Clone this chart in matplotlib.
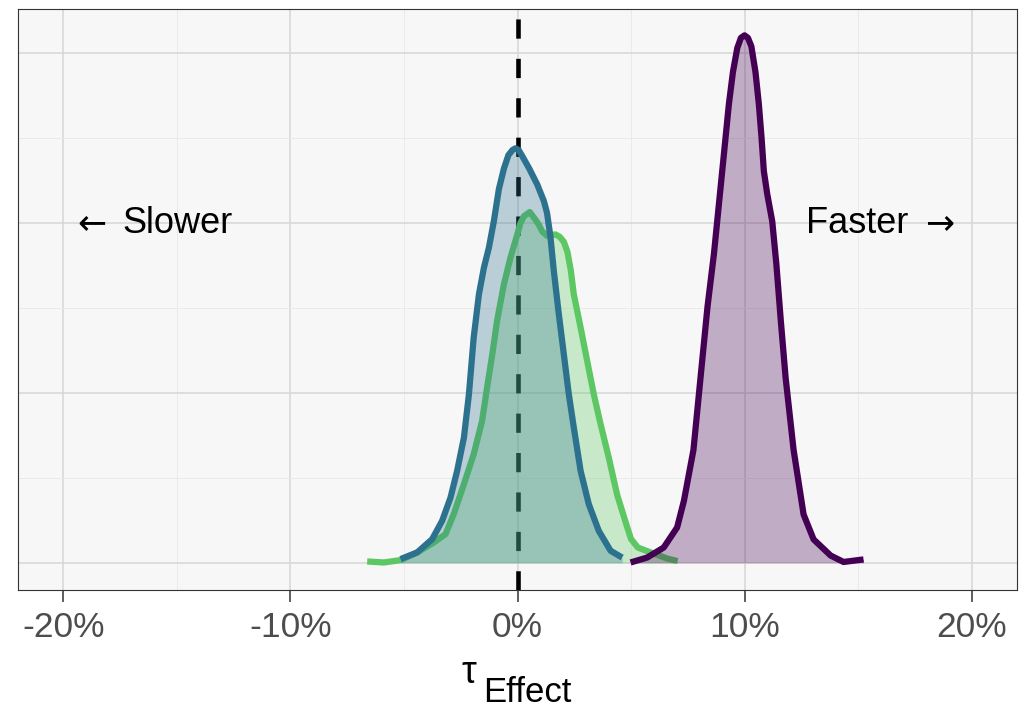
import numpy as np
import matplotlib; matplotlib.use('agg')
import matplotlib.pyplot as plt
from matplotlib.ticker import MultipleLocator, FuncFormatter

plt.rcParams['font.family'] = ['Liberation Sans', 'DejaVu Sans']

# density curves: x in percent, density in 1/fraction
green_x = [-6.62, -5.89, -5.15, -4.42, -3.69, -3.17, -2.81, -2.36, -1.93, -1.56,
           -1.34, -1.11, -0.90, -0.60, -0.31, -0.01, 0.13, 0.28, 0.54, 0.79,
           0.94, 1.09, 1.31, 1.50, 1.67, 1.85, 2.04, 2.20, 2.35, 2.48,
           2.78, 3.07, 3.36, 3.66, 4.02, 4.39, 4.76, 5.00, 5.30, 5.73,
           6.20, 6.60, 7.05]
green_y = [0.08, 0.02, 0.16, 0.61, 1.19, 1.69, 2.86, 4.63, 6.39, 8.35,
           10.31, 12.28, 14.24, 16.39, 17.96, 19.33, 20.0, 20.4, 20.65, 20.2,
           19.9, 19.5, 19.24, 19.3, 19.33, 19.2, 18.9, 18.3, 17.2, 15.8,
           13.84, 11.88, 9.92, 8.16, 6.19, 4.0, 2.4, 1.4, 0.9, 0.68,
           0.45, 0.25, 0.1]

blue_x = [-5.15, -4.42, -3.76, -3.32, -2.95, -2.66, -2.36, -2.14, -1.93, -1.70,
          -1.48, -1.26, -1.04, -0.82, -0.60, -0.40, -0.22, -0.09, 0.05, 0.21,
          0.50, 0.87, 1.16, 1.30, 1.45, 1.60, 1.82, 2.04, 2.26, 2.48,
          2.78, 3.14, 3.58, 4.10, 4.61]
blue_y = [0.22, 0.61, 1.39, 2.47, 3.84, 5.41, 7.37, 9.92, 13.25, 15.80,
          17.37, 18.55, 20.12, 22.0, 23.2, 24.0, 24.3, 24.4, 24.3, 23.94,
          23.25, 22.27, 21.3, 20.6, 19.2, 17.18, 14.63, 12.28, 9.92, 7.96,
          5.41, 3.45, 1.88, 0.71, 0.31]

purple_x = [4.98, 5.71, 6.44, 7.03, 7.33, 7.75, 8.06, 8.37, 8.65, 8.87,
            9.09, 9.31, 9.49, 9.68, 9.84, 10.0, 10.15, 10.30, 10.48, 10.63,
            10.75, 10.85, 11.0, 11.22, 11.40, 11.60, 11.81, 12.16, 12.60, 13.04,
            13.79, 14.36, 15.24]
purple_y = [0.02, 0.31, 0.9, 2.08, 3.65, 6.65, 10.88, 15.09, 18.16, 21.1,
            24.04, 27.0, 28.9, 30.3, 30.9, 31.05, 30.9, 30.4, 28.9, 27.0,
            25.0, 23.06, 21.7, 20.1, 17.6, 14.2, 10.88, 6.65, 2.85, 1.38,
            0.43, 0.05, 0.2]

series = [(green_x, green_y, '#5DC863'),
          (blue_x, blue_y, '#2C728E'),
          (purple_x, purple_y, '#440154')]

x_ticks = [-20, -10, 0, 10, 20]

fig = plt.figure(figsize=(10.25, 7.07), dpi=100)
ax = fig.add_axes([18/1025, 1 - 590/707, (1017 - 18)/1025, (590 - 9)/707])
ax.set_facecolor('#F7F7F7')

ax.set_xlim(-22, 22)
ax.set_ylim(-1.6, 32.6)
ax.set_xticks(x_ticks)
ax.xaxis.set_minor_locator(MultipleLocator(5))
ax.yaxis.set_major_locator(MultipleLocator(10))
ax.yaxis.set_minor_locator(MultipleLocator(5))
ax.xaxis.set_major_formatter(FuncFormatter(lambda v, p: '%d%%' % v))
ax.grid(which='major', color='#D6D6D6', lw=1.1, zorder=0)
ax.grid(which='minor', color='#EAEAEA', lw=0.7, zorder=0)
ax.set_axisbelow(True)

ax.tick_params(axis='x', which='major', length=8.6, width=1.1, color='#333333',
               labelsize=25.5, labelcolor='#4D4D4D', pad=6.5)
ax.tick_params(axis='x', which='minor', length=0)
ax.tick_params(axis='y', which='both', left=False, labelleft=False)
for s in ax.spines.values():
    s.set_color('#333333')
    s.set_linewidth(0.8)

# reference line, drawn from the bottom up so the dash phase matches
ax.plot([0, 0], [-1.6, 32.6], color='black', lw=3.3, dashes=(4.2, 4.4),
        solid_capstyle='butt', dash_capstyle='butt', zorder=1)

z = 2
for xs, ys, col in series:
    ax.fill_between(xs, 0, ys, color=col, alpha=0.3, lw=0, zorder=z)
    ax.plot(xs, ys, color=col, lw=4.5, solid_capstyle='butt',
            solid_joinstyle='round', zorder=z + 0.5)
    z += 1

# direction labels (arrow glyphs from DejaVu, which draws them full width)
ax.text(-18.1, 19.43, '\u2190', fontsize=25, family='DejaVu Sans',
        ha='right', va='baseline')
ax.text(-17.4, 19.43, 'Slower', fontsize=26, ha='left', va='baseline')
ax.text(17.22, 19.43, 'Faster', fontsize=26, ha='right', va='baseline')
ax.text(17.97, 19.43, '\u2192', fontsize=25, family='DejaVu Sans',
        ha='left', va='baseline')

# axis title: tau with subscript
fig.text(461/1025, 1 - 683/707, '\u03c4', fontsize=27, ha='left', va='baseline')
fig.text(483/1025, 1 - 701.7/707, 'Effect', fontsize=25, ha='left', va='baseline')

fig.savefig('out.png', dpi=100)
